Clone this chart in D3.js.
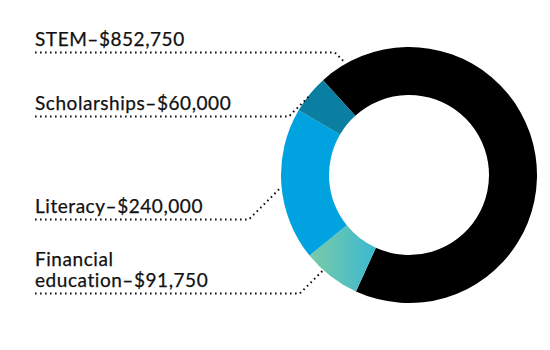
<!DOCTYPE html>
<html><head><meta charset="utf-8">
<script src="https://cdn.jsdelivr.net/npm/d3@7"></script>
<style>body{margin:0;background:#fff}svg{display:block}text{font-family:Lato,"Open Sans",sans-serif;font-size:19px;letter-spacing:0.55px;fill:#111;stroke:#111;stroke-width:0.25px}</style>
</head><body><div id="chart"></div>
<script>
// Data (clockwise order around the ring, starting at STEM)
const categories = ["STEM", "Financial education", "Literacy", "Scholarships"];
const values = [852750, 91750, 240000, 60000];
const labelLines = [["STEM\u2013$852,750"], ["Financial", "education\u2013$91,750"], ["Literacy\u2013$240,000"], ["Scholarships\u2013$60,000"]];
const colors = ["#000000", "url(#finGrad)", "#00a3e0", "#0a7fa1"];

const W = 550, H = 350;
const cx = 409, cy = 175, rOuter = 128, rInner = 80;
const startDeg = -42.2;
const svg = d3.select("#chart").append("svg").attr("width", W).attr("height", H);
const defs = svg.append("defs");
const g1 = defs.append("linearGradient").attr("id", "finGrad").attr("x1", "0").attr("x2", "1").attr("y1", "0").attr("y2", "0");
g1.append("stop").attr("offset", "0%").attr("stop-color", "#7bcaa6");
g1.append("stop").attr("offset", "100%").attr("stop-color", "#3bb9d0");

const pie = d3.pie().sort(null).value(d => d)
  .startAngle(startDeg * Math.PI / 180).endAngle(startDeg * Math.PI / 180 + 2 * Math.PI);
const arcs = pie(values);
const arc = d3.arc().innerRadius(rInner).outerRadius(rOuter);
const ring = svg.append("g").attr("transform", `translate(${cx},${cy})`);
ring.selectAll("path").data(arcs).join("path").attr("d", arc).attr("fill", (d, i) => colors[i]);

// Label layout: line y, anchor angle position inside slice (fraction), radius
const layout = [
  {lineY: 52.5, frac: 0.05, r: rOuter + 3},
  {lineY: 293.5, frac: 0.66, r: rOuter - 2},
  {lineY: 219.5, frac: 0.48, r: rOuter + 1},
  {lineY: 116.5, frac: 0.5, r: rOuter - 1}
];
const textX = 35;
const lab = svg.append("g");
arcs.forEach((a, i) => {
  const L = layout[i];
  const ang = a.startAngle + (a.endAngle - a.startAngle) * L.frac;
  const ex = cx + L.r * Math.sin(ang), ey = cy - L.r * Math.cos(ang);
  const elbowX = ex - Math.abs(ey - L.lineY);
  lab.append("path")
    .attr("d", d3.line()([[textX, L.lineY], [elbowX, L.lineY], [ex, ey]]))
    .attr("fill", "none").attr("stroke", "#111").attr("stroke-width", 2)
    .attr("stroke-dasharray", "1.6,3.4");
  const lines = labelLines[i];
  lines.forEach((t, j) => {
    lab.append("text").attr("x", textX).attr("y", L.lineY - 7 - (lines.length - 1 - j) * 21).text(t);
  });
});
</script></body></html>
